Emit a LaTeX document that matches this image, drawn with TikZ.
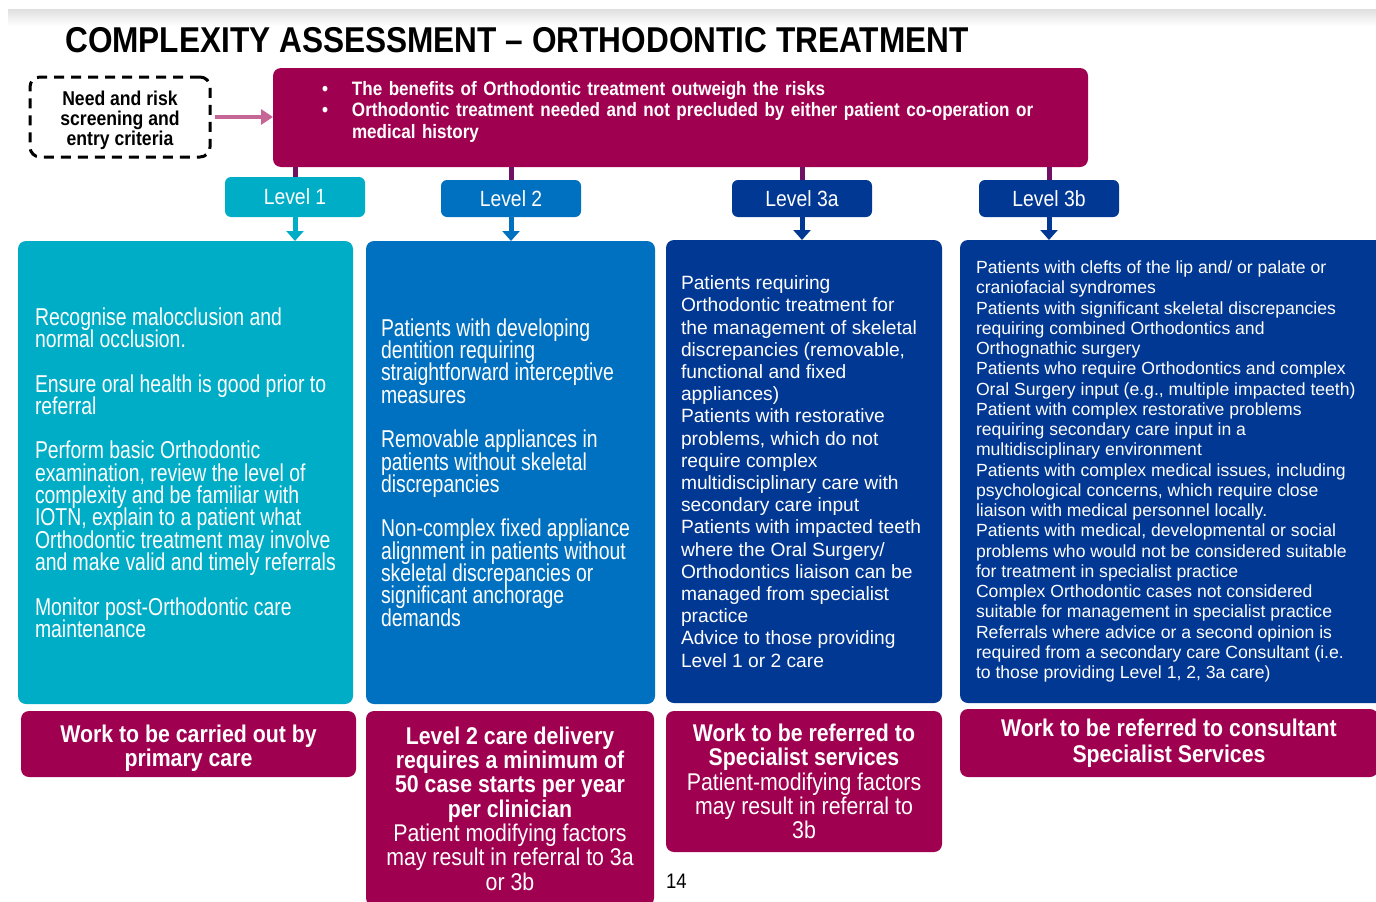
\documentclass[tikz,border=0pt]{standalone}
\usepackage{fontspec}
\setmainfont{Liberation Sans}
\newfontfamily\narrowfont[FakeStretch=0.88]{Liberation Sans}
\newfontfamily\bodyfont[FakeStretch=0.795]{Liberation Sans}
\usetikzlibrary{positioning, calc, arrows.meta}
\newcommand{\tightlines}{\lineskiplimit=-30pt\lineskip=0pt\relax}

\definecolor{plum}{RGB}{160,0,80}
\definecolor{levelone}{RGB}{0,173,198}
\definecolor{leveltwo}{RGB}{0,112,192}
\definecolor{levelthree}{RGB}{0,56,147}

\tikzset{
    textbox/.style={anchor=north west, rounded corners=8pt, text=white, align=flush left, outer sep=0pt, inner ysep=2pt},
    levelbox/.style={rounded corners=6pt, minimum width=140pt, text=white, outer sep=0pt, font=\narrowfont\fontsize{22}{24}\selectfont},
    outcome/.style={anchor=north west, fill=plum, rounded corners=8pt, text=white, align=center, outer sep=0pt, inner sep=2pt},
    feed/.style={line width=5pt, plum!70!levelthree},
    drop/.style={line width=5pt, -{Triangle[width=17pt,length=10pt]}},
}

\begin{document}
\begin{tikzpicture}[x=1pt, y=-1pt]
    \useasboundingbox (0,0) rectangle (1376,902);

    %Slide edge
    \shade[top color=gray!25, bottom color=white] (8,9) rectangle (1376,26);

    %Title
    \node[anchor=base west, inner sep=0pt, font=\narrowfont\bfseries\fontsize{35.9}{38}\selectfont] (title) at (65,52) {COMPLEXITY ASSESSMENT – ORTHODONTIC TREATMENT};

    %Entry
    \node[draw, line width=3pt, dash pattern=on 10pt off 7pt, rounded corners=10pt, minimum width=180pt, minimum height=80pt, outer sep=0pt, align=center, font=\narrowfont\bfseries\fontsize{20}{20}\selectfont] (entry) at (120,117) {\rule{0pt}{22pt}Need and risk\\screening and\\entry criteria};
    \node[outcome, minimum height=99pt, align=left, inner xsep=0pt, text width=815pt, font=\narrowfont\bfseries\fontsize{19.4}{21.3}\selectfont] (criteria) at (273,68) {%
        \begin{tabular}{@{\hspace{49pt}}p{30pt}@{}l@{}}
        \textbullet & The benefits of Orthodontic treatment outweigh the risks\\
        \textbullet & Orthodontic treatment needed and not precluded by either patient co-operation or\\
        & medical history\\[10pt]
        \end{tabular}};
    \draw[line width=4pt, plum!60, -{Triangle[width=15pt,length=12pt]}] ($(entry.east)+(5,0)$) -- (entry.east -| criteria.west);

    %Levels
    \node[levelbox, fill=levelone, minimum height=40pt] (lvl1) at (295,197) {Level 1};
    \node[levelbox, fill=leveltwo, minimum height=37pt] (lvl2) at (511,198.5) {Level 2};
    \node[levelbox, fill=levelthree, minimum height=37pt] (lvl3a) at (802,198.5) {Level 3a};
    \node[levelbox, fill=levelthree, minimum height=37pt] (lvl3b) at (1049,198.5) {Level 3b};

    %Level texts
    \node[textbox, fill=levelone, minimum width=335pt, minimum height=463pt, inner xsep=17pt, text width=301pt, font=\bodyfont\fontsize{24.4}{22.3}\selectfont\tightlines] (care1) at (18,241) {%
        Recognise malocclusion and\\
        normal occlusion.\\[\baselineskip]
        Ensure oral health is good prior to\\
        referral\\[\baselineskip]
        Perform basic Orthodontic\\
        examination, review the level of\\
        complexity and be familiar with\\
        IOTN, explain to a patient what\\
        Orthodontic treatment may involve\\
        and make valid and timely referrals\\[\baselineskip]
        Monitor post-Orthodontic care\\
        maintenance};
    \node[textbox, fill=leveltwo, minimum width=289pt, minimum height=463pt, inner xsep=15pt, text width=259pt, font=\bodyfont\fontsize{24.4}{22.3}\selectfont\tightlines] (care2) at (366,241) {%
        Patients with developing\\
        dentition requiring\\
        straightforward interceptive\\
        measures\\[\baselineskip]
        Removable appliances in\\
        patients without skeletal\\
        discrepancies\\[\baselineskip]
        Non-complex fixed appliance\\
        alignment in patients without\\
        skeletal discrepancies or\\
        significant anchorage\\
        demands};
    \node[textbox, fill=levelthree, minimum width=276pt, minimum height=463pt, inner xsep=15pt, text width=246pt, font=\fontsize{19.2}{22.2}\selectfont\tightlines] (care3a) at (666,240) {%
        Patients requiring\\
        Orthodontic treatment for\\
        the management of skeletal\\
        discrepancies (removable,\\
        functional and fixed\\
        appliances)\\
        Patients with restorative\\
        problems, which do not\\
        require complex\\
        multidisciplinary care with\\
        secondary care input\\
        Patients with impacted teeth\\
        where the Oral Surgery/\\
        Orthodontics liaison can be\\
        managed from specialist\\
        practice\\
        Advice to those providing\\
        Level 1 or 2 care};
    \node[textbox, fill=levelthree, minimum width=440pt, minimum height=463pt, inner xsep=16pt, text width=408pt, font=\fontsize{17.6}{20.25}\selectfont\tightlines] (care3b) at (960,240) {%
        Patients with clefts of the lip and/ or palate or\\
        craniofacial syndromes\\
        Patients with significant skeletal discrepancies\\
        requiring combined Orthodontics and\\
        Orthognathic surgery\\
        Patients who require Orthodontics and complex\\
        Oral Surgery input (e.g., multiple impacted teeth)\\
        Patient with complex restorative problems\\
        requiring secondary care input in a\\
        multidisciplinary environment\\
        Patients with complex medical issues, including\\
        psychological concerns, which require close\\
        liaison with medical personnel locally.\\
        Patients with medical, developmental or social\\
        problems who would not be considered suitable\\
        for treatment in specialist practice\\
        Complex Orthodontic cases not considered\\
        suitable for management in specialist practice\\
        Referrals where advice or a second opinion is\\
        required from a secondary care Consultant (i.e.\\
        to those providing Level 1, 2, 3a care)};

    %Outcomes
    \node[outcome, minimum width=335pt, minimum height=66pt, font=\narrowfont\bfseries\fontsize{24.2}{23.5}\selectfont] (out1) at (21,711) {\rule{0pt}{26pt}Work to be carried out by\\primary care};
    \node[outcome, minimum width=288pt, minimum height=195pt, font=\narrowfont\fontsize{24.2}{24.3}\selectfont] (out2) at (366,711) {%
        \textbf{Level 2 care delivery}\\
        \textbf{requires a minimum of}\\
        \textbf{50 case starts per year}\\
        \textbf{per clinician}\\
        Patient modifying factors\\
        may result in referral to 3a\\
        or 3b};
    \node[outcome, minimum width=276pt, minimum height=141pt, font=\narrowfont\fontsize{24.2}{24.3}\selectfont] (out3a) at (666,711) {%
        \textbf{Work to be referred to}\\
        \textbf{Specialist services}\\
        Patient-modifying factors\\
        may result in referral to\\
        3b};
    \node[outcome, minimum width=418pt, minimum height=68pt, font=\narrowfont\bfseries\fontsize{24.2}{25.5}\selectfont] (out3b) at (960,709) {Work to be referred to consultant\\Specialist Services};

    %Page number
    \node[anchor=base west, inner sep=0pt, font=\narrowfont\fontsize{21}{24}\selectfont] (page) at (666,888) {14};

    %Lines
    \foreach \lvl in {lvl1, lvl2, lvl3a, lvl3b}
        \draw[feed] (criteria.south -| \lvl) -- (\lvl.north);
    \draw[drop, levelone] (lvl1.south) -- (lvl1 |- care1.north);
    \draw[drop, leveltwo] (lvl2.south) -- (lvl2 |- care2.north);
    \draw[drop, levelthree] (lvl3a.south) -- (lvl3a |- care3a.north);
    \draw[drop, levelthree] (lvl3b.south) -- (lvl3b |- care3b.north);
\end{tikzpicture}
\end{document}
